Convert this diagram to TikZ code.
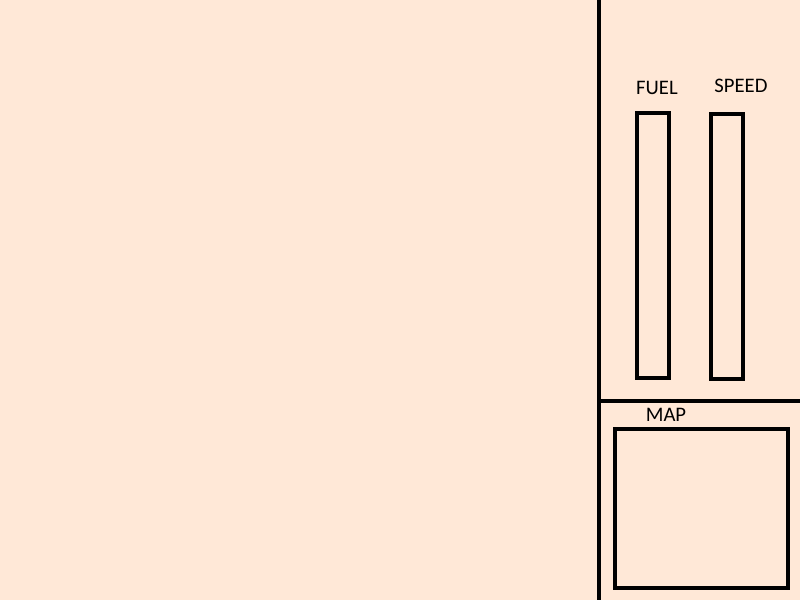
\documentclass[tikz,border=0pt]{standalone}
\usepackage{fontspec}
\setmainfont{Carlito}
\definecolor{bg}{HTML}{FFE8D7}
\begin{document}
\begin{tikzpicture}[x=0.75pt,y=-0.75pt,
  frame/.style={draw=black,line width=3pt},
  gauge/.style={draw=black,line width=3pt},
  lbl/.style={font=\fontsize{15.5}{18}\selectfont,inner sep=0pt}]
\fill[bg] (0,0) rectangle (800,600);
\useasboundingbox (0,0) rectangle (800,600);
\coordinate (vtop) at (599,0);
\coordinate (vbot) at (599,600);
\coordinate (hl) at (599,401);
\coordinate (hr) at (800,401);
\draw[frame] (vtop) -- (vbot);
\draw[frame] (hl) -- (hr);
\draw[gauge] (637,113) rectangle (669,378);
\draw[gauge] (711,114) rectangle (743,379);
\draw[gauge] (615,429) rectangle (788,588);
\node[lbl] (fuelt) at (657,88) {FUEL};
\node[lbl] (speedt) at (741,86) {SPEED};
\node[lbl] (mapt) at (666,415) {MAP};
\end{tikzpicture}
\end{document}
